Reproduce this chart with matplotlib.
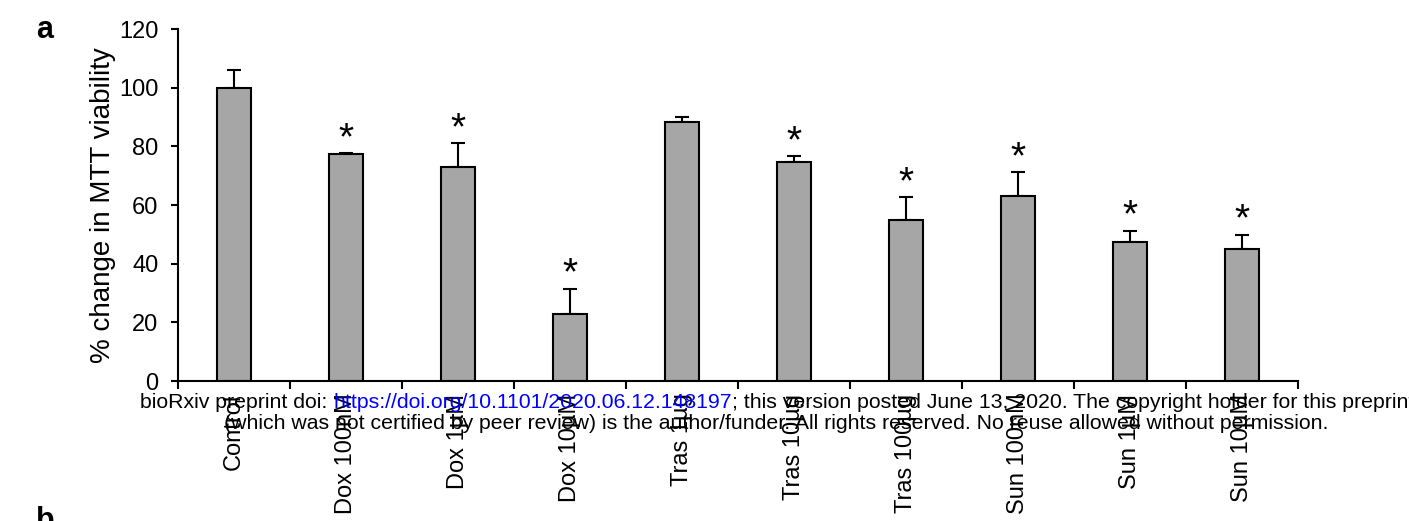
import numpy as np
import matplotlib
matplotlib.use("Agg")
import matplotlib.pyplot as plt

# Data (panel a)
GROUPS = ["Control", "Dox 100nM", "Dox 1µM", "Dox 10µM", "Tras 1µg",
          "Tras 10µg", "Tras 100µg", "Sun 100nM", "Sun 1µM", "Sun 10µM"]
VIABILITY = [100.0, 77.4, 73.0, 23.0, 88.4, 74.7, 54.8, 63.0, 47.5, 44.9]
SEM = [6.0, 0.3, 8.0, 8.4, 1.7, 1.9, 7.8, 8.1, 3.8, 5.0]
SIGNIFICANT = [False, True, True, True, False, True, True, True, True, True]

WATERMARK_1 = ["bioRxiv preprint doi: ",
               "https://doi.org/10.1101/2020.06.12.148197",
               "; this version posted June 13, 2020. The copyright holder for this preprint"]
WATERMARK_2 = ("(which was not certified by peer review) is the author/funder. "
               "All rights reserved. No reuse allowed without permission.")

W, H, DPI = 1409, 521, 100
BAR_COLOR = "#a6a6a6"
FONT = "Liberation Sans"

plt.rcParams["font.family"] = [FONT, "DejaVu Sans"]


def plot_viability(ax):
    """Bar chart with upper error bars and significance stars."""
    x = np.arange(len(GROUPS))
    lower = np.zeros(len(SEM))
    ax.bar(x, VIABILITY, width=0.31, color=BAR_COLOR, edgecolor="black",
           linewidth=1.5, zorder=2)
    ax.errorbar(x, VIABILITY, yerr=[lower, SEM], fmt="none", ecolor="black",
                elinewidth=1.5, capsize=5, capthick=1.5, zorder=1)
    for xi, v, e, sig in zip(x, VIABILITY, SEM, SIGNIFICANT):
        if sig:
            ax.annotate("*", (xi, v + e), xytext=(0, 3), textcoords="offset points",
                        ha="center", va="baseline", fontsize=28)

    ax.set_xlim(-0.5, len(GROUPS) - 0.5)
    ax.set_ylim(0, 120)
    ax.set_yticks(range(0, 121, 20))
    ax.set_xticks(np.arange(-0.5, len(GROUPS)), labels=[])
    ax.set_xticks(x, labels=GROUPS, minor=True)
    ax.tick_params(axis="x", which="major", direction="out", length=6, width=1.5)
    ax.tick_params(axis="x", which="minor", length=0, pad=9, labelsize=17,
                   labelrotation=90)
    ax.tick_params(axis="y", direction="out", length=5, width=1.5, labelsize=17, pad=9)
    ax.set_ylabel("% change in MTT viability", fontsize=20, labelpad=2)

    for side in ("top", "right"):
        ax.spines[side].set_visible(False)
    for side in ("left", "bottom"):
        ax.spines[side].set_linewidth(1.5)


def add_watermark(fig):
    """bioRxiv notice drawn over the figure, URL in blue."""
    renderer = fig.canvas.get_renderer()
    colors = ["black", "blue", "black"]
    x = 140 / W
    y1 = 1 - 408 / H
    for part, c in zip(WATERMARK_1, colors):
        t = fig.text(x, y1, part, color=c, fontsize=15.3, va="baseline", ha="left")
        bb = t.get_window_extent(renderer=renderer)
        x = bb.x1 / W
    fig.text(776 / W, 1 - 429 / H, WATERMARK_2, fontsize=15.3, va="baseline", ha="center")


def main():
    fig = plt.figure(figsize=(W / DPI, H / DPI), dpi=DPI)
    ax = fig.add_axes([178 / W, 1 - 381 / H, 1120 / W, 352 / H])
    plot_viability(ax)

    fig.text(36 / W, 1 - 38 / H, "a", fontsize=22, fontweight="bold", va="baseline")
    fig.text(36 / W, 1 - 529 / H, "b", fontsize=22, fontweight="bold", va="baseline")
    add_watermark(fig)

    fig.savefig("out.png", dpi=DPI)


if __name__ == "__main__":
    main()
